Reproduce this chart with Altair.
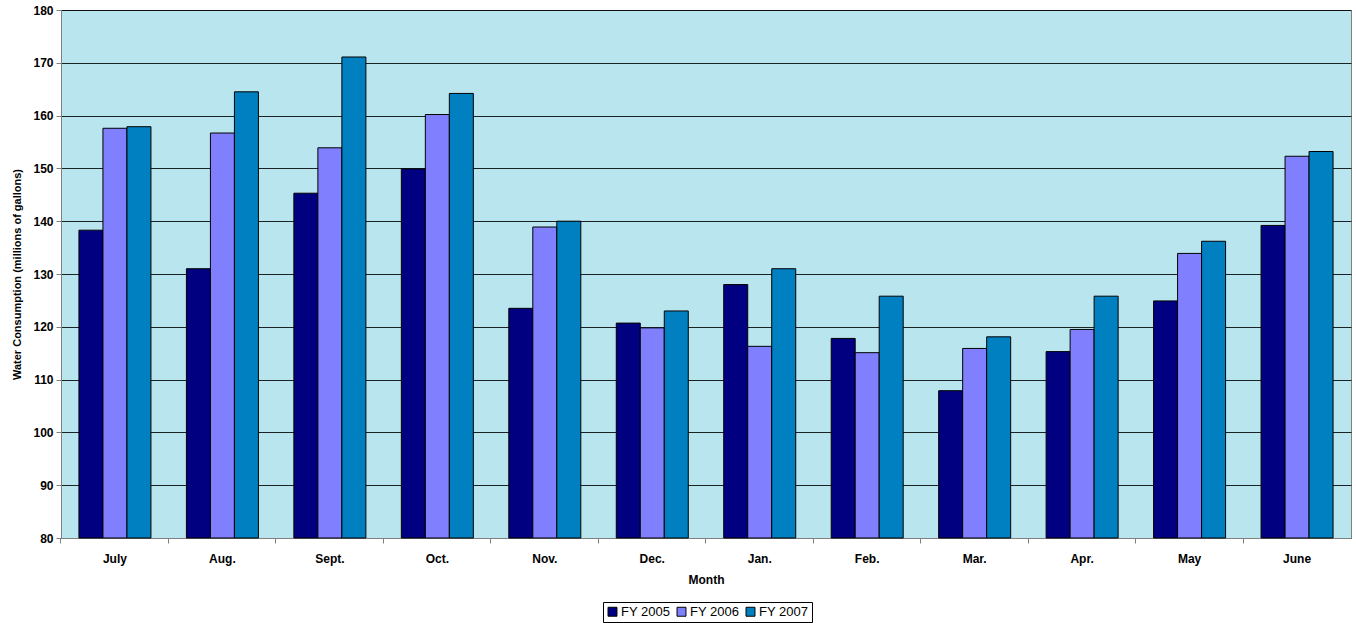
import altair as alt
import pandas as pd

months = ["July", "Aug.", "Sept.", "Oct.", "Nov.", "Dec.", "Jan.", "Feb.", "Mar.", "Apr.", "May", "June"]
series = ["FY 2005", "FY 2006", "FY 2007"]
fy2005 = [138.3, 131.0, 145.3, 149.9, 123.5, 120.7, 128.0, 117.8, 107.9, 115.3, 124.9, 139.2]
fy2006 = [157.6, 156.7, 153.9, 160.2, 138.9, 119.8, 116.3, 115.1, 115.9, 119.5, 133.9, 152.3]
fy2007 = [157.9, 164.5, 171.1, 164.2, 140.0, 123.0, 131.0, 125.8, 118.1, 125.8, 136.2, 153.2]
colors = ["#000080", "#8080FF", "#0080C0"]

rows = []
for s, vals in zip(series, [fy2005, fy2006, fy2007]):
    for m, v in zip(months, vals):
        rows.append({"Month": m, "Series": s, "Value": v})
df = pd.DataFrame(rows)

font = "Liberation Sans"

chart = alt.Chart(df).mark_bar(stroke="black", strokeWidth=1).encode(
    x=alt.X("Month:N", sort=months,
            scale=alt.Scale(paddingInner=0.33, paddingOuter=0.167),
            axis=alt.Axis(title="Month", labelAngle=0, labelFont=font, labelFontSize=12,
                          labelFontWeight="bold", labelColor="black", labelPadding=10,
                          titleFont=font, titleFontSize=12, titleFontWeight="bold",
                          titleColor="black", titlePadding=10,
                          tickSize=5, tickColor="#808080", domainColor="#808080",
                          bandPosition=-0.25, grid=False)),
    xOffset=alt.XOffset("Series:N", sort=series),
    y=alt.Y("Value:Q", scale=alt.Scale(domain=[80, 180], nice=False, zero=False),
            axis=alt.Axis(title="Water Consumption (millions of gallons)", values=list(range(80, 181, 10)),
                          labelFont=font, labelFontSize=12, labelFontWeight="bold",
                          labelColor="black", labelPadding=3,
                          titleFont=font, titleFontSize=11, titleFontWeight="bold",
                          titleColor="black", titlePadding=10,
                          tickSize=5, tickColor="#808080", domainColor="#808080",
                          grid=True, gridColor="black", gridWidth=1, gridOpacity=0.85)),
    y2=alt.datum(80),
    color=alt.Color("Series:N", sort=series,
                    scale=alt.Scale(domain=series, range=colors),
                    legend=alt.Legend(title=None, orient="none", direction="horizontal",
                                      legendX=542, legendY=592,
                                      symbolType="square", symbolSize=80,
                                      symbolStrokeColor="black", symbolStrokeWidth=1,
                                      symbolOpacity=1,
                                      labelFont=font, labelFontSize=13, labelColor="black",
                                      columnPadding=4, symbolOffset=0, labelOffset=2,
                                      strokeColor="black", padding=3)),
).properties(
    width=1290, height=528,
    autosize=alt.AutoSizeParams(type="none"),
    padding={"left": 61, "top": 10, "right": 5, "bottom": 85},
    background="white",
).configure_view(
    fill="#B9E6EE", stroke="#808080", strokeWidth=1
)

chart.save("out.html", embed_options={"renderer": "svg", "actions": False})
